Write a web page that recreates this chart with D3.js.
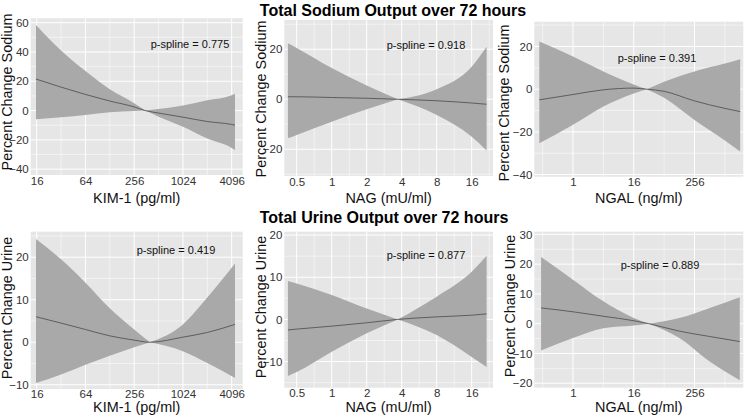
<!DOCTYPE html>
<html>
<head>
  <meta charset="utf-8">
  <title>Percent change in sodium and urine output by biomarker</title>
  <script src="https://d3js.org/d3.v7.min.js"></script>
  <style>
    body { margin: 0; background: #fff; }
    svg { display: block; font-family: "Liberation Sans", Arial, sans-serif; }
    .tick text { fill: #333; font-size: 11.5px; }
    .axis-title { font-size: 14.4px; fill: #111; }
    .pval { font-size: 11px; fill: #111; }
    .title { font-size: 16px; font-weight: bold; fill: #000; }
  </style>
</head>
<body>
  <div id="chart"></div>

  <script>
    // tick labels on the log2 x axes
    const kimTicks = [16, 64, 256, 1024, 4096];
    const nagTicks = [0.5, 1, 2, 4, 8, 16];
    const ngalTicks = [1, 16, 256];

    // Total sodium output: fit line and 95% band (percent change)
    const sodiumKimX = [15.7, 32, 64, 128, 256, 350, 512, 1024, 2048, 4096, 4500];
    const sodiumKimFit = [21.5, 16, 11, 6.5, 2.5, 0, -1.7, -4.5, -7.5, -9.5, -10];
    const sodiumKimUpper = [58.5, 41, 27, 14.5, 5, 0, 1, 3.5, 7, 10.5, 11.5];
    const sodiumKimLower = [-6, -4.5, -3, -1.2, -0.3, 0, -4.2, -11, -19, -25.5, -27];

    const sodiumNagX = [0.42, 0.5, 1, 2, 3.7, 8, 16, 21.5];
    const sodiumNagFit = [1, 1, 0.7, 0.4, 0, -0.6, -1.5, -2];
    const sodiumNagUpper = [22.4, 20.5, 12.5, 5.5, 0, 4, 13, 21];
    const sodiumNagLower = [-15.6, -14.3, -9, -4, 0, -6.3, -15, -20.5];

    const sodiumNgalX = [0.215, 1, 4, 16, 29, 64, 256, 1024, 2060];
    const sodiumNgalFit = [-5, -2.5, -0.3, 0.5, 0, -1, -5.5, -9, -10.5];
    const sodiumNgalUpper = [22.3, 15.3, 8.3, 2.2, 0, 3.5, 8.3, 12, 14];
    const sodiumNgalLower = [-25.3, -16.7, -8.1, -2, 0, -4, -14.4, -24, -29.2];

    // Total urine output
    const urineKimX = [15.7, 32, 64, 128, 256, 400, 1024, 2048, 4500];
    const urineKimFit = [6, 4.5, 3, 1.5, 0.5, 0, 1.2, 2.3, 4.2];
    const urineKimUpper = [24.3, 19.5, 14, 8, 3, 0, 4.2, 10.5, 18.5];
    const urineKimLower = [-9.6, -7.6, -5.3, -3.2, -1.2, 0, -2.1, -4.9, -8.4];

    const urineNagX = [0.42, 0.5, 1, 2, 3.7, 8, 16, 21.5];
    const urineNagFit = [-2.5, -2.3, -1.6, -0.8, 0, 0.6, 1, 1.3];
    const urineNagUpper = [9.1, 8.5, 5.8, 2.6, 0, 5.4, 11.3, 15.1];
    const urineNagLower = [-13.4, -12.5, -7.7, -3.3, 0, -3.7, -8.9, -11.3];

    const urineNgalX = [0.233, 1, 4, 16, 32, 128, 512, 2020];
    const urineNgalFit = [5.3, 4, 2.5, 1, 0, -2.5, -4.3, -6];
    const urineNgalUpper = [22.4, 14.8, 7.5, 1.9, 0, 1.9, 5.3, 8.9];
    const urineNgalLower = [-9, -4.8, -1.5, -0.6, 0, -4.8, -12.7, -19];

    const pValues = ["0.775", "0.918", "0.391", "0.419", "0.877", "0.889"];

    const width = 745, height = 415;

    // one entry per panel; box = [left, top, right, bottom] in pixels
    const panels = [
      { x: sodiumKimX, fit: sodiumKimFit, hi: sodiumKimUpper, lo: sodiumKimLower, xTicks: kimTicks,
        yTicks: [-40, -20, 0, 20, 40, 60], xDomain: [13.5, 5600], yDomain: [-44, 63],
        box: [30.7, 18.3, 242.7, 175], xLabel: "KIM-1 (pg/ml)", yLabel: "Percent Change Sodium",
        yTitleX: 12, yTitleY: 92, xTitleY: 202.5, pad: 2, pAt: [190, 48] },
      { x: sodiumNagX, fit: sodiumNagFit, hi: sodiumNagUpper, lo: sodiumNagLower, xTicks: nagTicks,
        yTicks: [-20, 0, 20], xDomain: [0.391, 24.4], yDomain: [-30.7, 31.7],
        box: [284.3, 20, 493, 176], xLabel: "NAG (mU/ml)", yLabel: "Percent Change Sodium",
        yTitleX: 265.5, yTitleY: 99, xTitleY: 202.5, pad: 1.5, pAt: [426, 49] },
      { x: sodiumNgalX, fit: sodiumNgalFit, hi: sodiumNgalUpper, lo: sodiumNgalLower, xTicks: ngalTicks,
        yTicks: [-40, -20, 0, 20], xDomain: [0.171, 2375], yDomain: [-41, 31.6],
        box: [534.3, 21.7, 743.3, 176.7], xLabel: "NGAL (ng/ml)", yLabel: "Percent Change Sodium",
        yTitleX: 509, yTitleY: 103, xTitleY: 202.5, pad: 1, pAt: [657, 62] },
      { x: urineKimX, fit: urineKimFit, hi: urineKimUpper, lo: urineKimLower, xTicks: kimTicks,
        yTicks: [-10, 0, 10, 20], xDomain: [13.5, 5600], yDomain: [-11, 26],
        box: [30.7, 231.7, 242.7, 389], xLabel: "KIM-1 (pg/ml)", yLabel: "Percent Change Urine",
        yTitleX: 12, yTitleY: 308, xTitleY: 411.5, pad: 0.5, pAt: [176, 254] },
      { x: urineNagX, fit: urineNagFit, hi: urineNagUpper, lo: urineNagLower, xTicks: nagTicks,
        yTicks: [-10, 0, 10, 20], xDomain: [0.391, 24.4], yDomain: [-16.2, 20.8],
        box: [284.3, 231.7, 493, 387.7], xLabel: "NAG (mU/ml)", yLabel: "Percent Change Urine",
        yTitleX: 265.5, yTitleY: 307, xTitleY: 411.5, pad: 1, pAt: [426, 259] },
      { x: urineNgalX, fit: urineNgalFit, hi: urineNgalUpper, lo: urineNgalLower, xTicks: ngalTicks,
        yTicks: [-20, -10, 0, 10, 20, 30], xDomain: [0.171, 2375], yDomain: [-21.5, 30.9],
        box: [534.3, 231.7, 743.3, 387.7], xLabel: "NGAL (ng/ml)", yLabel: "Percent Change Urine",
        yTitleX: 515, yTitleY: 306, xTitleY: 411.5, pad: 1, pAt: [660, 269] }
    ];

    const svg = d3.select("#chart")
      .append("svg")
      .attr("width", width)
      .attr("height", height);

    panels.forEach(function(p, i) {
      const [left, top, right, bottom] = p.box;
      const x = d3.scaleLog().base(2).domain(p.xDomain).range([left, right]);
      const y = d3.scaleLinear().domain(p.yDomain).range([bottom, top]);
      const g = svg.append("g");

      // panel background
      g.append("rect")
        .attr("x", left).attr("y", top)
        .attr("width", right - left).attr("height", bottom - top)
        .attr("fill", "#e6e6e6");

      // minor grid: geometric midpoints on x, arithmetic midpoints on y
      const xr = Math.sqrt(p.xTicks[1] / p.xTicks[0]);
      const xMinor = [p.xTicks[0] / xr].concat(p.xTicks.map(t => t * xr))
        .filter(v => v > p.xDomain[0] && v < p.xDomain[1]);
      const yh = (p.yTicks[1] - p.yTicks[0]) / 2;
      const yMinor = [p.yTicks[0] - yh].concat(p.yTicks.map(t => t + yh))
        .filter(v => v > p.yDomain[0] && v < p.yDomain[1]);

      g.selectAll(".vminor").data(xMinor).enter().append("line")
        .attr("x1", d => x(d)).attr("x2", d => x(d)).attr("y1", top).attr("y2", bottom)
        .attr("stroke", "#fff").attr("stroke-width", 0.5);
      g.selectAll(".hminor").data(yMinor).enter().append("line")
        .attr("y1", d => y(d)).attr("y2", d => y(d)).attr("x1", left).attr("x2", right)
        .attr("stroke", "#fff").attr("stroke-width", 0.5);
      g.selectAll(".vmajor").data(p.xTicks).enter().append("line")
        .attr("x1", d => x(d)).attr("x2", d => x(d)).attr("y1", top).attr("y2", bottom)
        .attr("stroke", "#fff").attr("stroke-width", 1);
      g.selectAll(".hmajor").data(p.yTicks).enter().append("line")
        .attr("y1", d => y(d)).attr("y2", d => y(d)).attr("x1", left).attr("x2", right)
        .attr("stroke", "#fff").attr("stroke-width", 1);

      // band, split at the pinch so both halves meet in a point
      const rows = p.x.map((v, k) => ({ x: v, fit: p.fit[k], hi: p.hi[k], lo: p.lo[k] }));
      const pinch = rows.findIndex(d => d.hi === d.lo);
      const area = d3.area()
        .x(d => x(d.x)).y0(d => y(d.lo)).y1(d => y(d.hi))
        .curve(d3.curveMonotoneX);
      [rows.slice(0, pinch + 1), rows.slice(pinch)].forEach(function(part) {
        g.append("path").attr("d", area(part)).attr("fill", "#a9a9a9");
      });

      const line = d3.line().x(d => x(d.x)).y(d => y(d.fit)).curve(d3.curveMonotoneX);
      g.append("path").attr("d", line(rows))
        .attr("fill", "none").attr("stroke", "#555").attr("stroke-width", 0.9);

      // axes
      g.append("g")
        .attr("transform", "translate(0," + bottom + ")")
        .call(d3.axisBottom(x).tickValues(p.xTicks).tickFormat(d3.format("")).tickSize(0).tickPadding(p.pad))
        .call(a => a.select(".domain").remove())
        .attr("font-family", null).attr("font-size", null);

      g.append("g")
        .attr("transform", "translate(" + left + ",0)")
        .call(d3.axisLeft(y).tickValues(p.yTicks).tickSize(0).tickPadding(2))
        .call(a => a.select(".domain").remove())
        .attr("font-family", null).attr("font-size", null);

      // axis titles
      g.append("text")
        .attr("class", "axis-title")
        .attr("x", (left + right) / 2)
        .attr("y", p.xTitleY)
        .attr("text-anchor", "middle")
        .text(p.xLabel);

      g.append("text")
        .attr("class", "axis-title")
        .attr("transform", "translate(" + p.yTitleX + "," + p.yTitleY + ") rotate(-90)")
        .attr("text-anchor", "middle")
        .text(p.yLabel);

      g.append("text")
        .attr("class", "pval")
        .attr("x", p.pAt[0]).attr("y", p.pAt[1])
        .attr("text-anchor", "middle")
        .text("p-spline = " + pValues[i]);
    });

    svg.append("text").attr("class", "title")
      .attr("x", 393).attr("y", 16).attr("text-anchor", "middle")
      .text("Total Sodium Output over 72 hours");

    svg.append("text").attr("class", "title")
      .attr("x", 384).attr("y", 223).attr("text-anchor", "middle")
      .text("Total Urine Output over 72 hours");
  </script>
</body>
</html>
